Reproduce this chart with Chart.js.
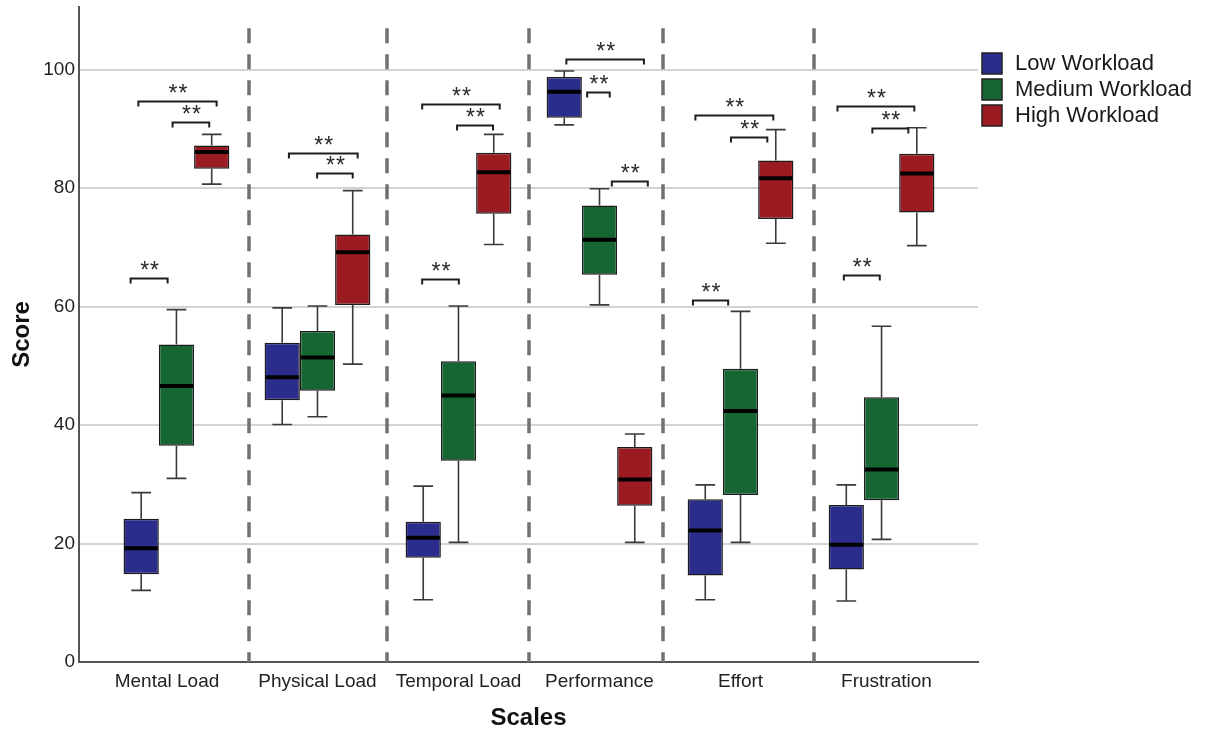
<!DOCTYPE html>
<html>
<head>
<meta charset="utf-8">
<title>NASA-TLX scores by workload level</title>
<script src="https://cdn.jsdelivr.net/npm/chart.js@4.4.1/dist/chart.umd.min.js"></script>
<style>
  html, body { margin: 0; padding: 0; background: #ffffff; }
  #wrap { width: 1207px; height: 730px; }
</style>
</head>
<body>
<div id="wrap"><canvas id="chart" width="1207" height="730"></canvas></div>
<script>
// Subscales on the x axis
const categories = ['Mental Load', 'Physical Load', 'Temporal Load', 'Performance', 'Effort', 'Frustration'];
const seriesNames = ['Low Workload', 'Medium Workload', 'High Workload'];

// Box statistics per subscale: [min, Q1, median, Q3, max]
const lowWorkload = [
  [12.1, 14.8, 19.2, 24.2, 28.6],
  [40.1, 44.2, 48.1, 53.9, 59.8],
  [10.5, 17.6, 21.0, 23.7, 29.7],
  [90.7, 91.9, 96.3, 98.8, 99.8],
  [10.5, 14.6, 22.2, 27.5, 29.9],
  [10.3, 15.6, 19.8, 26.5, 29.9]
];
const mediumWorkload = [
  [31.0, 36.5, 46.6, 53.6, 59.5],
  [41.4, 45.8, 51.4, 55.9, 60.1],
  [20.2, 34.0, 45.0, 50.8, 60.1],
  [60.3, 65.4, 71.3, 77.1, 79.9],
  [20.2, 28.2, 42.4, 49.5, 59.2],
  [20.7, 27.3, 32.5, 44.7, 56.7]
];
const highWorkload = [
  [80.7, 83.3, 86.1, 87.2, 89.1],
  [50.3, 60.3, 69.2, 72.2, 79.6],
  [70.5, 75.7, 82.7, 86.0, 89.1],
  [20.2, 26.4, 30.8, 36.3, 38.5],
  [70.7, 74.8, 81.7, 84.7, 89.9],
  [70.3, 75.9, 82.5, 85.8, 90.2]
];
const yTicks = [0, 20, 40, 60, 80, 100];

// Significance brackets: [subscale index, bracket level (score), left end, right end, label]
// ends are given in box slots (0 = low, 1 = medium, 2 = high)
const sigBrackets = [
  [0, 94.8, -0.08, 2.14, '**'], [0, 91.2, 0.89, 1.93, '**'], [0, 64.8, -0.30, 0.75, '**'],
  [1, 86.0, 0.19, 2.14, '**'], [1, 82.5, 0.99, 2.00, '**'],
  [2, 94.2, -0.03, 2.17, '**'], [2, 90.6, 0.96, 1.98, '**'], [2, 64.6, -0.03, 1.01, '**'],
  [3, 101.8, 0.06, 2.26, '**'], [3, 96.3, 0.65, 1.29, '**'], [3, 81.2, 1.35, 2.37, '**'],
  [4, 92.3, -0.28, 1.93, '**'], [4, 88.7, 0.73, 1.76, '**'], [4, 61.1, -0.35, 0.65, '**'],
  [5, 93.8, -0.25, 1.93, '**'], [5, 90.2, 0.74, 1.76, '**'], [5, 65.4, -0.07, 0.95, '**']
];

const seriesStats = [lowWorkload, mediumWorkload, highWorkload];
const seriesColors = ['#2b2d8c', '#166634', '#9b1b20'];

// Layout helpers (axis units)
const dividerAt = [0.511, 1.493, 2.498, 3.453, 4.524];
const labelAt = [-0.067, 1.0, 2.0, 3.0, 4.0, 5.035];
const dividerTop = 107;
const FONT = "'Liberation Sans', Arial, sans-serif";

const boxPlotPlugin = {
  id: 'boxPlotExtras',
  beforeDatasetsDraw(chart) {
    const { ctx, scales: { x, y } } = chart;
    ctx.save();
    ctx.strokeStyle = '#717171';
    ctx.lineWidth = 3.5;
    ctx.setLineDash([15, 11]);
    const top = y.getPixelForValue(dividerTop);
    const bottom = y.getPixelForValue(0);
    dividerAt.forEach(v => {
      const px = Math.round(x.getPixelForValue(v));
      ctx.beginPath();
      ctx.moveTo(px, top);
      ctx.lineTo(px, bottom);
      ctx.stroke();
    });
    ctx.restore();
  },
  afterDatasetsDraw(chart) {
    const { ctx, scales: { x, y } } = chart;
    ctx.save();
    // whiskers and medians
    seriesStats.forEach((stats, d) => {
      const meta = chart.getDatasetMeta(d);
      meta.data.forEach((bar, i) => {
        const [mn, q1, med, q3, mx] = stats[i];
        const cx = bar.x;
        const w = bar.width;
        const cap = w * 0.28;
        ctx.strokeStyle = '#3a3a3a';
        ctx.lineWidth = 1.6;
        ctx.setLineDash([]);
        const pMax = y.getPixelForValue(mx), pQ3 = y.getPixelForValue(q3);
        const pMin = y.getPixelForValue(mn), pQ1 = y.getPixelForValue(q1);
        ctx.beginPath();
        ctx.moveTo(cx, pQ3); ctx.lineTo(cx, pMax);
        ctx.moveTo(cx - cap, pMax); ctx.lineTo(cx + cap, pMax);
        ctx.moveTo(cx, pQ1); ctx.lineTo(cx, pMin);
        ctx.moveTo(cx - cap, pMin); ctx.lineTo(cx + cap, pMin);
        ctx.stroke();
        ctx.strokeStyle = '#000000';
        ctx.lineWidth = 4;
        const pMed = y.getPixelForValue(med);
        ctx.beginPath();
        ctx.moveTo(cx - w / 2 + 1, pMed);
        ctx.lineTo(cx + w / 2 - 1, pMed);
        ctx.stroke();
      });
    });
    // significance brackets
    const slot = chart.getDatasetMeta(0).data[0].width;
    ctx.strokeStyle = '#1e1e1e';
    ctx.lineWidth = 2;
    ctx.fillStyle = '#2a2a2a';
    ctx.font = '23px ' + FONT;
    ctx.textAlign = 'center';
    ctx.textBaseline = 'alphabetic';
    if ('letterSpacing' in ctx) ctx.letterSpacing = '1px';
    sigBrackets.forEach(([cat, level, a, b, label]) => {
      const c = x.getPixelForValue(cat);
      const x1 = c + (a - 1) * slot;
      const x2 = c + (b - 1) * slot;
      const py = Math.round(y.getPixelForValue(level)) + 0.5;
      ctx.beginPath();
      ctx.moveTo(x1, py + 5); ctx.lineTo(x1, py);
      ctx.lineTo(x2, py); ctx.lineTo(x2, py + 5);
      ctx.stroke();
      ctx.fillText(label, (x1 + x2) / 2 + 1, py - 1);
    });
    ctx.restore();
  },
  afterDraw(chart) {
    const { ctx, chartArea } = chart;
    ctx.save();
    const left = chartArea.right + 4;
    ctx.font = '22px ' + FONT;
    ctx.textAlign = 'left';
    ctx.textBaseline = 'middle';
    chart.data.datasets.forEach((ds, i) => {
      const cy = 63 + i * 26;
      ctx.fillStyle = ds.backgroundColor;
      ctx.fillRect(left, cy - 10, 20, 21);
      ctx.strokeStyle = '#222222';
      ctx.lineWidth = 1.5;
      ctx.strokeRect(left, cy - 10, 20, 21);
      ctx.fillStyle = '#1a1a1a';
      ctx.fillText(ds.label, left + 33, cy + 1);
    });
    ctx.restore();
  }
};

const datasets = seriesStats.map((stats, d) => ({
  label: seriesNames[d],
  data: categories.map((_, i) => ({ x: i, y: [stats[i][1], stats[i][3]] })),
  backgroundColor: seriesColors[d],
  borderColor: '#1c1c1c',
  borderWidth: 1.5,
  borderSkipped: false,
  categoryPercentage: 0.75,
  barPercentage: 1.0
}));

new Chart(document.getElementById('chart'), {
  type: 'bar',
  data: { datasets },
  plugins: [boxPlotPlugin],
  options: {
    responsive: false,
    animation: false,
    devicePixelRatio: 1,
    layout: { padding: { left: 0, right: 229, top: 7, bottom: 0 } },
    plugins: { legend: { display: false }, tooltip: { enabled: false } },
    scales: {
      x: {
        type: 'linear',
        min: -0.691,
        max: 5.684,
        offset: false,
        afterFit(scale) { scale.height = 68; scale.paddingLeft = 0; scale.paddingRight = 0; },
        afterBuildTicks(scale) { scale.ticks = labelAt.map(v => ({ value: v })); },
        ticks: {
          stepSize: 1,
          autoSkip: false,
          maxRotation: 0,
          includeBounds: false,
          padding: 8,
          color: '#222222',
          font: { family: FONT, size: 19 },
          callback: (v, i) => categories[i] ?? ''
        },
        grid: { display: false, drawTicks: false },
        border: { display: true, color: '#555555', width: 2 },
        title: {
          display: true,
          text: 'Scales',
          color: '#111111',
          font: { family: FONT, size: 24, weight: 'bold', lineHeight: 1.0 },
          padding: { top: 0, bottom: 0 }
        }
      },
      y: {
        min: 0,
        max: 110.6,
        afterFit(scale) { scale.width = 79; scale.paddingTop = 0; scale.paddingBottom = 0; },
        afterBuildTicks(scale) { scale.ticks = yTicks.map(v => ({ value: v })); },
        ticks: {
          stepSize: 20,
          includeBounds: false,
          padding: 4,
          color: '#222222',
          font: { family: FONT, size: 19 }
        },
        grid: {
          drawTicks: false,
          color: ctx => (ctx.tick && ctx.tick.value === 0) ? 'rgba(0,0,0,0)' : '#d3d3d3',
          lineWidth: 2
        },
        border: { display: true, color: '#555555', width: 2 },
        title: {
          display: true,
          text: 'Score',
          color: '#111111',
          font: { family: FONT, size: 24, weight: 'bold', lineHeight: 1.0 },
          padding: { top: 10, bottom: 0 }
        }
      }
    }
  }
});
</script>
</body>
</html>
